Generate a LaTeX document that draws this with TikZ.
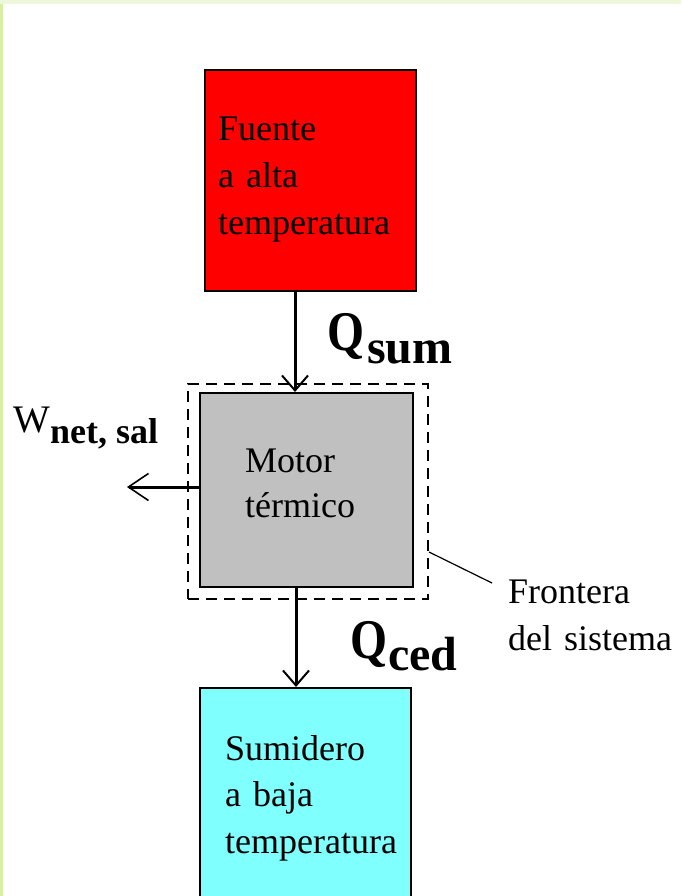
\documentclass[tikz,border=0pt]{standalone}
\usepackage{fontspec}
\setmainfont{Liberation Serif}
\usetikzlibrary{arrows.meta}
\definecolor{edgeTop}{HTML}{EEF7DA}
\definecolor{edgeLeft}{HTML}{D6EFA2}
\definecolor{hotred}{HTML}{FF0000}
\definecolor{coldcyan}{HTML}{80FFFF}
\definecolor{motorgray}{HTML}{C0C0C0}
\tikzset{
  boxstyle/.style={draw=black, line width=2pt, inner sep=0pt, anchor=north west},
  boundary/.style={draw=black, line width=2pt, dash pattern=on 11pt off 7pt, inner sep=0pt, anchor=north west},
  flow/.style={line width=3pt, -{Straight Barb[length=15pt,width=26pt,line width=2pt]}},
  workflow/.style={line width=3pt, -{Straight Barb[length=20pt,width=27pt,line width=1.6pt]}},
  leader/.style={line width=1.2pt},
  boxtext/.style={inner sep=0pt, anchor=base west, align=left, text width=200pt, font=\fontsize{36}{47}\selectfont},
  qlabel/.style={inner sep=0pt, anchor=base west}
}
\begin{document}
\begin{tikzpicture}[x=1pt, y=-1pt]
\useasboundingbox (0,0) rectangle (681,896);
\fill[white] (0,0) rectangle (681,896);
\fill[edgeTop] (0,0) rectangle (681,4.5);
\fill[edgeLeft] (0,4.5) rectangle (2.5,896);

% boxes
\node[boxstyle, fill=hotred, minimum width=211pt, minimum height=221pt] (source) at (204,69) {};
\node[boundary, minimum width=240pt, minimum height=215pt] (border) at (187,383) {};
\node[boxstyle, fill=motorgray, minimum width=213pt, minimum height=194pt] (engine) at (199,392) {};
\node[boxstyle, fill=coldcyan, minimum width=211pt, minimum height=230pt] (sink) at (199,687) {};

% texts
\node[boxtext] (sourcetxt) at (218,141) {Fuente\\a alta\\temperatura};
\node[boxtext, font=\fontsize{36}{45}\selectfont] (enginetxt) at (245,472) {Motor\\térmico};
\node[boxtext, font=\fontsize{36}{46.5}\selectfont] (sinktxt) at (225,760) {Sumidero\\a baja\\temperatura};
\node[boxtext] (bordertxt) at (508,603) {Frontera\\del sistema};

% connector helper coordinates
\coordinate (xin) at (295,0);
\coordinate (xout) at (296,0);
\coordinate (wend) at (127,487);
\coordinate (leadA) at (0,552);
\coordinate (leadB) at (492,583);

\draw[flow] (source.south -| xin) -- (engine.north -| xin);
\draw[flow] (engine.south -| xout) -- (sink.north -| xout);
\draw[workflow] (engine.west |- wend) -- (wend);
\draw[leader] (border.east |- leadA) -- (leadB);

% labels
\node[qlabel] (qsum) at (327,350) {\fontsize{56}{56}\selectfont\bfseries\scalebox{0.85}[1]{Q}};
\node[qlabel] (qsumsub) at (367,363) {\fontsize{48}{48}\selectfont\bfseries sum};
\node[qlabel] (qced) at (350,658) {\fontsize{56}{56}\selectfont\bfseries\scalebox{0.85}[1]{Q}};
\node[qlabel] (qcedsub) at (388,670) {\fontsize{48}{48}\selectfont\bfseries ced};
\node[qlabel] (wnet) at (13,432) {\fontsize{39}{39}\selectfont W};
\node[qlabel] (wnetsub) at (50,443) {\fontsize{36}{36}\selectfont\bfseries net, sal};
\end{tikzpicture}
\end{document}
